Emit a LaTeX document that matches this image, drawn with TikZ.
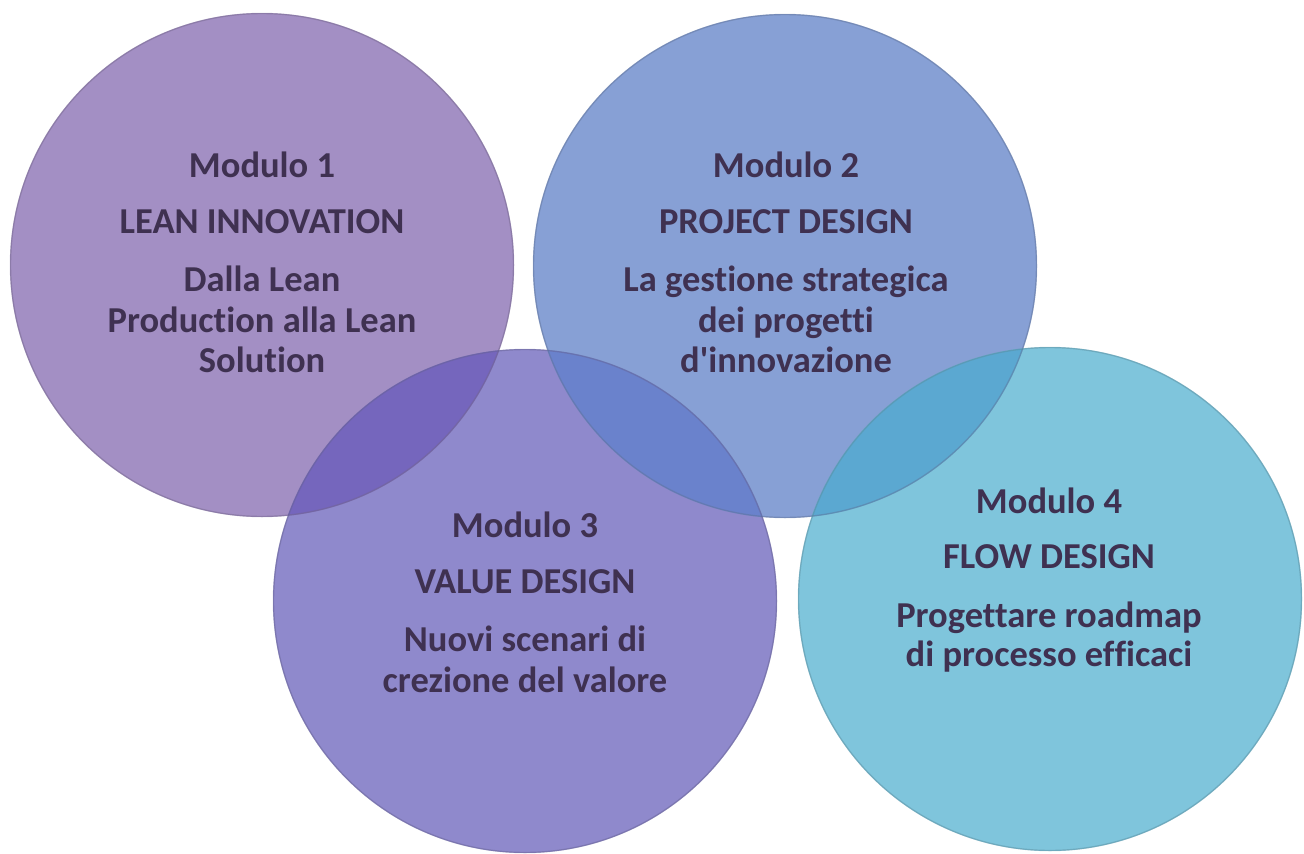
\documentclass[tikz,border=0pt]{standalone}
\usepackage{fontspec}
\setmainfont{Carlito}[Ligatures={TeXOff,NoCommon}]
\definecolor{cA}{HTML}{A38FC4}
\definecolor{cB}{HTML}{87A0D5}
\definecolor{cC}{HTML}{8F89CC}
\definecolor{cD}{HTML}{7FC5DC}
\definecolor{iAC}{HTML}{7566BD}
\definecolor{iBC}{HTML}{6A82CC}
\definecolor{iBD}{HTML}{5BA8D1}
\definecolor{txt}{HTML}{3F3151}
\tikzset{
  bubble/.style={circle, minimum size=504pt, inner sep=0pt},
  rim/.style={line width=1.4pt, draw opacity=0.45},
  lbl/.style={anchor=base, inner sep=0pt, text=txt, font=\fontsize{36.5}{42}\selectfont\bfseries}
}
\begin{document}
\begin{tikzpicture}[x=1pt,y=-1pt]
\useasboundingbox (0,0) rectangle (1304,854);
% circles
\node[bubble, fill=cA] (c1) at (262,265) {};
\node[bubble, fill=cC] (c3) at (525,601) {};
\node[bubble, fill=cB] (c2) at (785,266) {};
\node[bubble, fill=cD] (c4) at (1050,599) {};
% overlaps
\begin{scope}
  \clip (c1.center) circle (252);
  \fill[iAC] (c3.center) circle (252);
\end{scope}
\begin{scope}
  \clip (c2.center) circle (252);
  \fill[iBC] (c3.center) circle (252);
\end{scope}
\begin{scope}
  \clip (c2.center) circle (252);
  \fill[iBD] (c4.center) circle (252);
\end{scope}
% rims
\draw[rim, draw=cA!70!black] (c1.center) circle (251.5);
\draw[rim, draw=cC!70!black] (c3.center) circle (251.5);
\draw[rim, draw=cB!70!black] (c2.center) circle (251.5);
\draw[rim, draw=cD!70!black] (c4.center) circle (251.5);
% texts circle 1
\node[lbl] (t1a) at (262,177) {Modulo 1};
\node[lbl] (t1b) at (262,233) {LEAN INNOVATION};
\node[lbl] (t1c) at (262,291) {Dalla Lean};
\node[lbl] (t1d) at (262,332) {Production alla Lean};
\node[lbl] (t1e) at (262,372) {Solution};
% texts circle 2
\node[lbl] (t2a) at (786,177) {Modulo 2};
\node[lbl] (t2b) at (786,233) {PROJECT DESIGN};
\node[lbl] (t2c) at (786,291) {La gestione strategica};
\node[lbl] (t2d) at (786,332) {dei progetti};
\node[lbl] (t2e) at (786,372) {d'innovazione};
% texts circle 3
\node[lbl] (t3a) at (525,537) {Modulo 3};
\node[lbl] (t3b) at (525,593) {VALUE DESIGN};
\node[lbl] (t3c) at (525,651) {Nuovi scenari di};
\node[lbl] (t3d) at (525,692) {crezione del valore};
% texts circle 4
\node[lbl] (t4a) at (1049,513) {Modulo 4};
\node[lbl] (t4b) at (1049,568) {FLOW DESIGN};
\node[lbl] (t4c) at (1049,627) {Progettare roadmap};
\node[lbl] (t4d) at (1049,666) {di processo efficaci};
\end{tikzpicture}
\end{document}
